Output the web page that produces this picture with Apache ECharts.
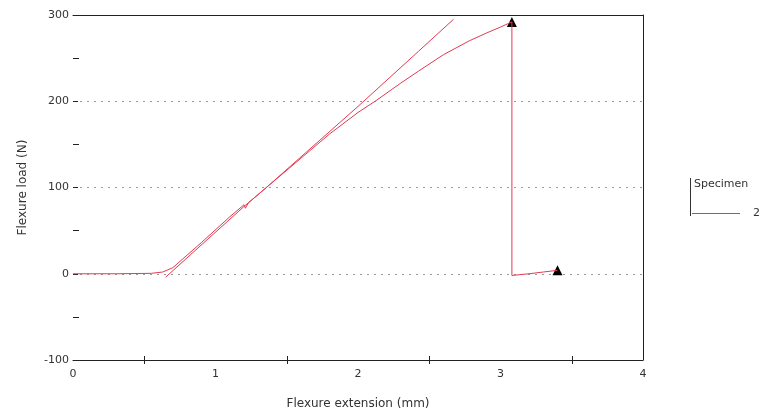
<!DOCTYPE html>
<html>
<head>
<meta charset="utf-8">
<script src="https://cdn.jsdelivr.net/npm/echarts@6/dist/echarts.min.js"></script>
<style>
  html, body { margin: 0; padding: 0; background: #fff; }
  #chart { width: 767px; height: 420px; }
</style>
</head>
<body>
<div id="chart"></div>
<script>
// specimen 2 - loading curve (extension in mm, load in N)
const curveExt = [0, 0.3, 0.55, 0.63, 0.7, 0.9, 1.1, 1.2, 1.21, 1.23, 1.357, 1.6, 1.8, 2.0, 2.12, 2.3, 2.425, 2.6, 2.78, 2.9, 3.0, 3.08, 3.08, 3.2, 3.3, 3.4];
const curveLoad = [0, 0, 0.5, 2, 7, 36, 66, 80, 76, 82, 100, 134, 162, 187, 200, 221, 235, 254, 270, 279, 286, 292, -2, 0, 2, 4];
// straight (modulus) line
const lineExt = [0.65, 1.2, 1.357, 2.0, 2.425, 2.67];
const lineLoad = [-4, 78, 100, 194, 258, 295];
// break markers
const markExt = [3.08, 3.4];
const markLoad = [292, 4];
const xTicks = ["0", "1", "2", "3", "4"];
const yTicks = ["-100", "0", "100", "200", "300"];

const zip = (xs, ys) => xs.map((x, i) => [x, ys[i]]);

document.addEventListener("DOMContentLoaded", function () {
  const chart = echarts.init(document.getElementById("chart"));
  const red = "#e23a52";
  const font = "DejaVu Sans";
  const option = {
    animation: false,
    grid: { left: 73, right: 124, top: 15, bottom: 60 },
    legend: {
      data: ["2"],
      right: 2,
      top: 203,
      itemWidth: 48,
      itemHeight: 12,
      itemStyle: { opacity: 0 },
      lineStyle: { width: 1 },
      textStyle: { fontFamily: font, fontSize: 11, color: "#333", padding: [0, 0, 0, 8] },
      selectedMode: false,
    },
    graphic: [
      { type: "line", shape: { x1: 690.5, y1: 178, x2: 690.5, y2: 216 }, style: { stroke: "#333", lineWidth: 1 } },
      { type: "text", left: 694, top: 179, style: { text: "Specimen", fontFamily: font, fontSize: 11, fill: "#333" } },
    ],
    xAxis: [
      {
        type: "value",
        min: 0,
        max: 4,
        interval: 1,
        name: "Flexure extension (mm)",
        nameLocation: "middle",
        nameGap: 38,
        nameTextStyle: { fontFamily: font, fontSize: 12, color: "#333" },
        axisLine: { show: true, onZero: false, lineStyle: { color: "#222", width: 1 } },
        axisTick: { show: false },
        minorTick: { show: true, splitNumber: 2, length: 4, lineStyle: { color: "#222" } },
        axisLabel: {
          margin: 9,
          fontFamily: font,
          fontSize: 11,
          color: "#333",
          formatter: (v) => xTicks[Math.round(v)],
        },
        splitLine: { show: false },
      },
      {
        type: "value",
        position: "bottom",
        min: 0,
        max: 4,
        interval: 1,
        axisLine: { show: false, onZero: false },
        axisTick: { show: false, inside: true },
        minorTick: { show: true, splitNumber: 2, length: 4, lineStyle: { color: "#222" } },
        axisLabel: { show: false },
        splitLine: { show: false },
      },
      {
        type: "value",
        position: "top",
        min: 0,
        max: 4,
        axisLine: { show: true, onZero: false, lineStyle: { color: "#222", width: 1 } },
        axisTick: { show: false },
        axisLabel: { show: false },
        splitLine: { show: false },
      },
    ],
    yAxis: [
      {
        type: "value",
        min: -100,
        max: 300,
        interval: 100,
        name: "Flexure load (N)",
        nameLocation: "middle",
        nameGap: 44,
        nameTextStyle: { fontFamily: font, fontSize: 12, color: "#333" },
        axisLine: { show: false, onZero: false },
        axisTick: { show: true, inside: true, length: 5, lineStyle: { color: "#222" } },
        minorTick: { show: true, splitNumber: 2, length: 6, lineStyle: { color: "#222" } },
        axisLabel: {
          margin: 4,
          fontFamily: font,
          fontSize: 11,
          color: "#333",
          formatter: (v) => yTicks[Math.round((v + 100) / 100)],
        },
        splitLine: { show: true, lineStyle: { color: "#999", type: [2, 5], width: 1 } },
      },
      {
        type: "value",
        position: "right",
        min: -100,
        max: 300,
        axisLine: { show: true, onZero: false, lineStyle: { color: "#222", width: 1 } },
        axisTick: { show: false },
        axisLabel: { show: false },
        splitLine: { show: false },
      },
    ],
    series: [
      {
        name: "2",
        type: "line",
        data: zip(curveExt, curveLoad),
        symbol: "none",
        lineStyle: { color: red, width: 1 },
        itemStyle: { color: red },
      },
      {
        name: "2",
        type: "line",
        data: zip(lineExt, lineLoad),
        symbol: "none",
        lineStyle: { color: red, width: 1 },
        itemStyle: { color: red },
      },
      {
        name: "break",
        type: "scatter",
        data: zip(markExt, markLoad),
        symbol: "triangle",
        symbolSize: 10,
        itemStyle: { color: "#000", opacity: 1 },
      },
    ],
  };
  chart.setOption(option);
  window.addEventListener("resize", function () {
    chart.resize();
  });
});
</script>
</body>
</html>
